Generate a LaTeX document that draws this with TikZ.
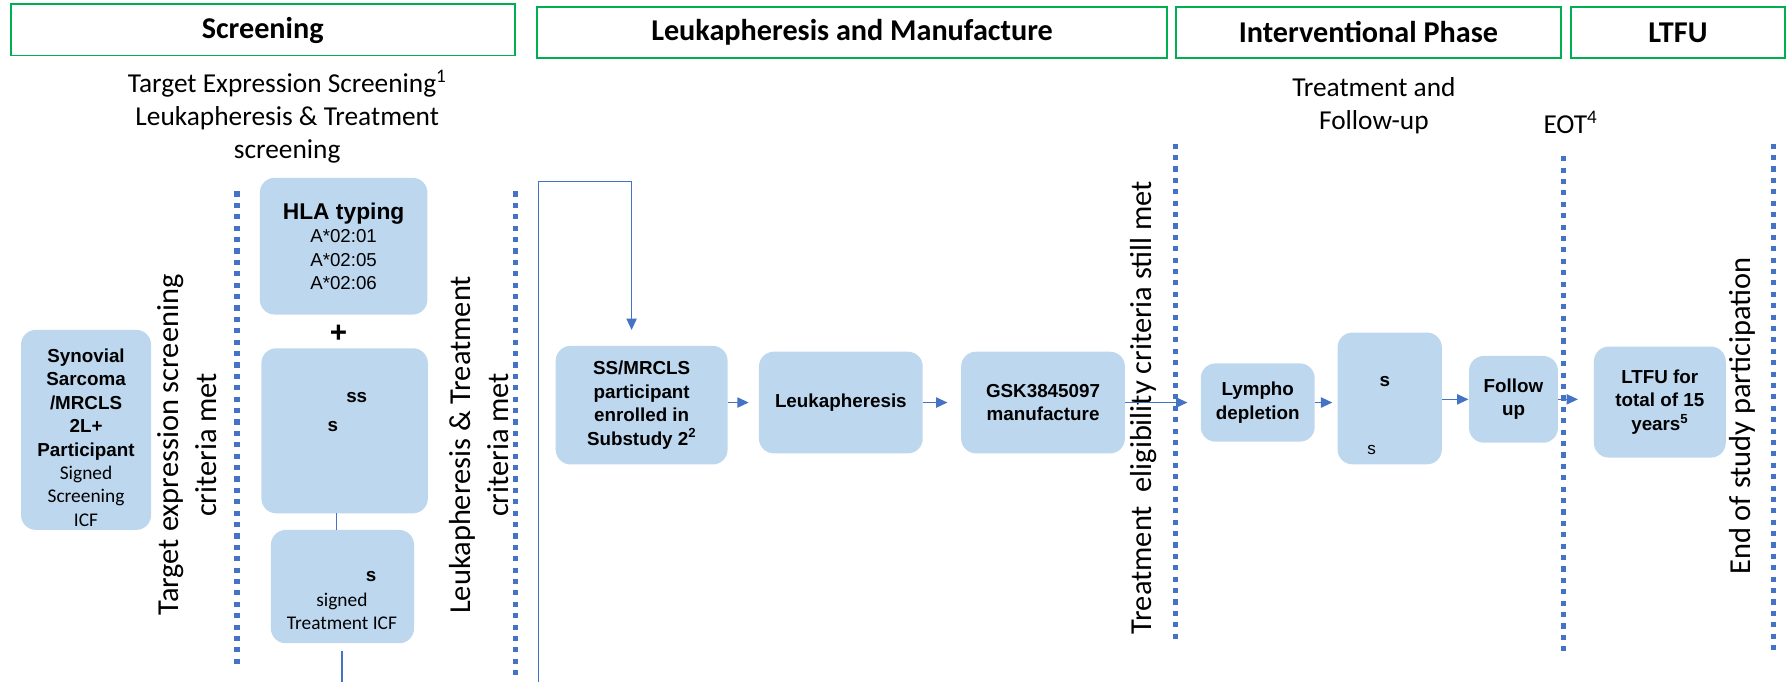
\documentclass[tikz,border=0pt]{standalone}
\usepackage{fontspec}
\setmainfont{Carlito}
\newfontfamily\arialfont{Liberation Sans}
\usetikzlibrary{arrows.meta}
\definecolor{boxblue}{HTML}{BDD7EE}
\definecolor{flowblue}{HTML}{4472C4}
\definecolor{phasegreen}{HTML}{00B050}
\newcommand{\bx}{\arialfont\bfseries\fontsize{16.5}{20.5}\selectfont}
\newcommand{\sig}{\normalfont\fontsize{17}{20.5}\selectfont}
\newcommand{\midcal}{\fontsize{24}{29}\selectfont}
\newcommand{\bigcal}{\fontsize{26.7}{33.5}\selectfont}
\begin{document}
\begin{tikzpicture}[x=1pt,y=-1pt]
	\tikzstyle{every node}=[inner sep=0pt,outer sep=0pt]
	\tikzstyle{phase}=[draw=phasegreen,line width=1.5pt,minimum height=45pt,font=\bfseries\fontsize{26.5}{30}\selectfont]
	\tikzstyle{blk}=[fill=boxblue,rounded corners=13pt,align=center,font=\bx]
	\tikzstyle{sep}=[flowblue,line width=4.5pt,dash pattern=on 4.5pt off 5.5pt]
	\tikzstyle{con}=[flowblue,line width=1.3pt]
	\tikzstyle{arr}=[con,-{Triangle[length=10pt,width=9pt]}]
	\tikzstyle{vtxt}=[rotate=90,align=center,font=\bigcal]
	\useasboundingbox (0,0) rectangle (1568,598);
	\node[phase,minimum width=442.2pt] (hscr) at (230.5,26.3) {Screening};
	\node[phase,minimum width=552.7pt] (hlkp) at (747.6,28.5) {Leukapheresis and Manufacture};
	\node[phase,minimum width=337.6pt] (hint) at (1200.7,28.5) {Interventional Phase};
	\node[phase,minimum width=187.4pt] (hltf) at (1472.3,28.5) {LTFU};
	\node[align=center,font=\midcal] (tscr) at (252,102.5) {Target Expression Screening\textsuperscript{1}\\Leukapheresis \& Treatment\\screening};
	\node[align=center,font=\midcal] (ttrt) at (1205.5,92.8) {Treatment and\\Follow-up};
	\node[font=\midcal] (eot) at (1378,107.3) {EOT\textsuperscript{4}};
	\draw[sep] (208,168) -- (208,586);
	\draw[sep] (452,168) -- (452,598);
	\draw[sep] (1031.5,126) -- (1031.5,563);
	\draw[sep] (1371.6,137) -- (1371.6,574);
	\draw[sep] (1556,126) -- (1556,576);
	\node[vtxt] (vscr) at (164.5,390.4) {Target expression screening\\criteria met};
	\node[vtxt] (vlkp) at (420.5,390.4) {Leukapheresis \& Treatment\\criteria met};
	\node[vtxt] (velg) at (1003,357.6) {Treatment\ \ eligibility criteria still met};
	\node[vtxt] (vend) at (1528.5,365) {End of study participation};
	\node[blk,minimum width=114.1pt,minimum height=175.5pt] (syn) at (75.5,377.2) {};
	\node[align=center,font=\bx] (syntxt) at (75.5,384) {Synovial\\Sarcoma\\/MRCLS\\2L+\\Participant\\\sig Signed\\\sig Screening\\\sig ICF};
	\node[blk,minimum width=147pt,minimum height=120pt,font=\arialfont\fontsize{16.4}{20.5}\selectfont] (hla) at (301.5,216) {\bfseries\fontsize{20}{20.5}\selectfont HLA typing\\A*02:01\\A*02:05\\A*02:06};
	\node[font=\arialfont\bfseries\fontsize{26}{26}\selectfont] (plus) at (297,293) {+};
	\node[blk,minimum width=146pt,minimum height=144.8pt] (big) at (302.4,378) {};
	\node[font=\bx] (bigss) at (313,349) {ss};
	\node[font=\bx] (bigs) at (292,374) {s};
	\node[blk,minimum width=125.6pt,minimum height=99.4pt] (icf) at (300.5,514.7) {};
	\node[font=\bx] (icfs) at (325.7,506) {s};
	\node[align=center,font=\sig] (icftxt) at (300,536.6) {signed\\Treatment ICF};
	\node[blk,minimum width=150.8pt,minimum height=104pt] (ss) at (563,355.5) {SS/MRCLS\\participant\\enrolled in\\Substudy 2\textsuperscript{2}};
	\node[blk,minimum width=143.7pt,minimum height=89.2pt] (leuk) at (737.8,353.2) {Leukapheresis};
	\node[blk,minimum width=143.7pt,minimum height=89.2pt] (gsk) at (915.2,353.2) {GSK3845097\\manufacture};
	\node[blk,minimum width=100pt,minimum height=68.7pt] (lym) at (1103.6,353.2) {Lympho\\depletion};
	\node[blk,minimum width=91.5pt,minimum height=115.6pt] (trt) at (1219.4,349.6) {};
	\node[font=\bx] (trts) at (1215.1,334.8) {s};
	\node[font=\arialfont\fontsize{15}{18}\selectfont] (trtsb) at (1203.6,394.8) {s};
	\node[blk,minimum width=78pt,minimum height=76.1pt] (fol) at (1328,350.4) {Follow\\up};
	\node[blk,minimum width=115.7pt,minimum height=97.4pt] (ltfu) at (1456.4,352.8) {LTFU for\\total of 15\\years\textsuperscript{5}};
	\coordinate (fbbot) at (472.7,598);
	\coordinate (fbtop) at (554.2,159.4);
	\coordinate (icfbot) at (300,598);
	\draw[arr,shorten >=14pt] (fbbot) |- (fbtop) -- (fbtop |- ss.north);
	\draw[con] ([xshift=-7pt]big.south) -- ([xshift=-7pt]big.south |- icf.north);
	\draw[con] (icfbot |- icf.south) ++(0,7) -- (icfbot);
	\draw[arr,shorten >=9pt] (ss.east |- leuk.west) -- (leuk.west);
	\draw[arr,shorten >=12pt] (leuk.east) -- (gsk.west);
	\draw[arr,shorten >=11.7pt] (gsk.east) -- (lym.west);
	\draw[arr,shorten >=4.6pt] (lym.east) -- (lym.east -| trt.west);
	\draw[arr,shorten >=0.5pt] (trt.east |- fol.west) -- (fol.west);
	\draw[arr,shorten >=14pt] (fol.east) -- (fol.east -| ltfu.west);
\end{tikzpicture}
\end{document}
